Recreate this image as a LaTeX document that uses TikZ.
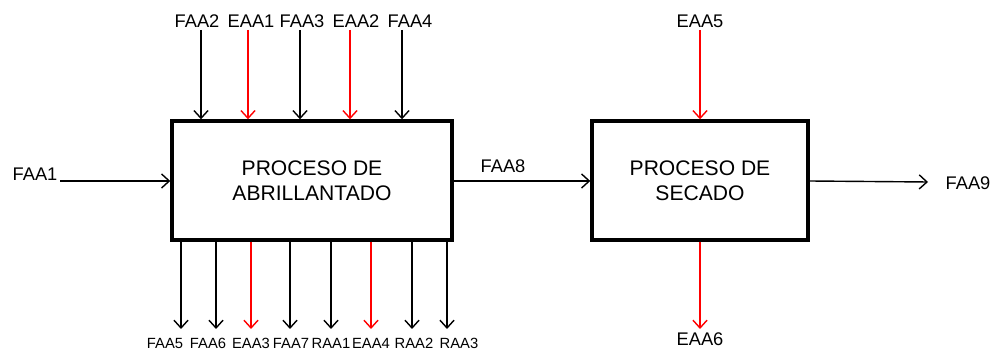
\documentclass[tikz,border=0pt]{standalone}
\usepackage{fontspec}
\setmainfont{Liberation Sans}
\usetikzlibrary{arrows.meta}
\begin{document}
\begin{tikzpicture}[x=0.025cm, y=-0.025cm,
	  process/.style={draw, line width=2.4pt, inner sep=0pt, align=center, font=\fontsize{15}{17.5}\selectfont},
	  flow/.style={line width=1pt, -{Straight Barb[length=5.5pt,width=10pt]}},
	  energy/.style={flow, red},
	  lbl/.style={inner sep=1pt, font=\fontsize{13}{15}\selectfont},
	  sml/.style={inner sep=1pt, font=\fontsize{10.5}{12}\selectfont}]
	  \useasboundingbox (0,0) rectangle (997,352);
	  
	  % procesos
	  \node[process, minimum width=280*0.025cm, minimum height=119*0.025cm] (brillo) at (312,180.5) {PROCESO DE\\ABRILLANTADO};
	  \node[process, minimum width=216*0.025cm, minimum height=119*0.025cm] (secado) at (700,180.5) {PROCESO DE\\SECADO};
	  
	  % entradas superiores
	  \node[lbl] (faa2) at (197,21) {FAA2};
	  \node[lbl] (eaa1) at (251,21) {EAA1};
	  \node[lbl] (faa3) at (302,21) {FAA3};
	  \node[lbl] (eaa2) at (356,21) {EAA2};
	  \node[lbl] (faa4) at (410,21) {FAA4};
	  \node[lbl] (eaa5) at (700,21) {EAA5};
	  \coordinate (t1) at (201,30);
	  \coordinate (t2) at (248,30);
	  \coordinate (t3) at (300,30);
	  \coordinate (t4) at (350,30);
	  \coordinate (t5) at (402,30);
	  \coordinate (t6) at (700,30);
	  \draw[flow] (t1) -- (t1 |- brillo.north);
	  \draw[energy] (t2) -- (t2 |- brillo.north);
	  \draw[flow] (t3) -- (t3 |- brillo.north);
	  \draw[energy] (t4) -- (t4 |- brillo.north);
	  \draw[flow] (t5) -- (t5 |- brillo.north);
	  \draw[energy] (t6) -- (secado.north);
	  
	  % entrada y salidas laterales
	  \node[lbl] (faa1) at (35,174) {FAA1};
	  \node[lbl] (faa8) at (503,166) {FAA8};
	  \node[lbl] (faa9) at (968,183) {FAA9};
	  \coordinate (in1) at (60,181);
	  \coordinate (out9) at (928,182);
	  \draw[flow] (in1) -- (in1 -| brillo.west);
	  \draw[flow] (brillo.east |- in1) -- (secado.west |- in1);
	  \draw[flow] (secado.east |- in1) -- (out9);
	  
	  % salidas inferiores
	  \node[sml] (faa5) at (165,343) {FAA5};
	  \node[sml] (faa6) at (208,343) {FAA6};
	  \node[sml] (eaa3) at (251,343) {EAA3};
	  \node[sml] (faa7) at (291,343) {FAA7};
	  \node[sml] (raa1) at (331,343) {RAA1};
	  \node[sml] (eaa4) at (371,343) {EAA4};
	  \node[sml] (raa2) at (414,343) {RAA2};
	  \node[sml] (raa3) at (459,343) {RAA3};
	  \node[lbl] (eaa6) at (700,339) {EAA6};
	  \coordinate (b1) at (181,329);
	  \coordinate (b2) at (216,329);
	  \coordinate (b3) at (251,329);
	  \coordinate (b4) at (290,329);
	  \coordinate (b5) at (331,329);
	  \coordinate (b6) at (371,329);
	  \coordinate (b7) at (412,329);
	  \coordinate (b8) at (447,329);
	  \coordinate (b9) at (700,329);
	  \draw[flow] (b1 |- brillo.south) -- (b1);
	  \draw[flow] (b2 |- brillo.south) -- (b2);
	  \draw[energy] (b3 |- brillo.south) -- (b3);
	  \draw[flow] (b4 |- brillo.south) -- (b4);
	  \draw[flow] (b5 |- brillo.south) -- (b5);
	  \draw[energy] (b6 |- brillo.south) -- (b6);
	  \draw[flow] (b7 |- brillo.south) -- (b7);
	  \draw[flow] (b8 |- brillo.south) -- (b8);
	  \draw[energy] (secado.south) -- (b9);
	\end{tikzpicture}
\end{document}
